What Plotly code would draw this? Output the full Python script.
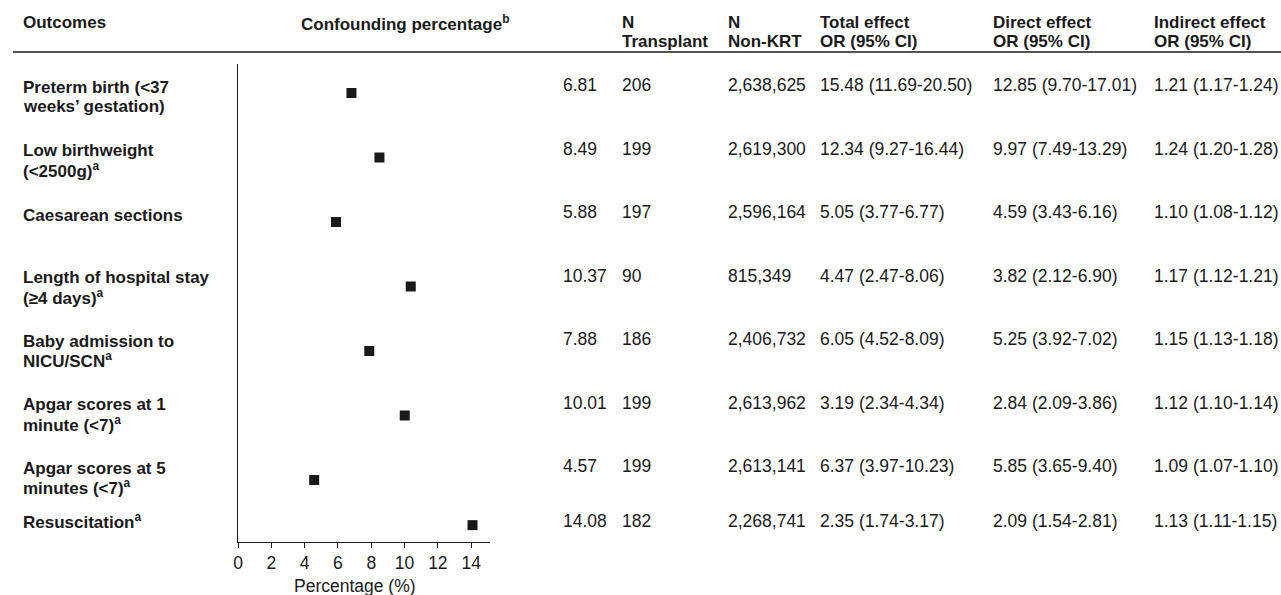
import plotly.graph_objects as go

W, H = 1281, 595

outcomes = [
    ["Preterm birth (&lt;37", "weeks’ gestation)"],
    ["Low birthweight", "(&lt;2500g)<sup>a</sup>"],
    ["Caesarean sections"],
    ["Length of hospital stay", "(≥4 days)<sup>a</sup>"],
    ["Baby admission to", "NICU/SCN<sup>a</sup>"],
    ["Apgar scores at 1", "minute (&lt;7)<sup>a</sup>"],
    ["Apgar scores at 5", "minutes (&lt;7)<sup>a</sup>"],
    ["Resuscitation<sup>a</sup>"],
]
confounding_pct = [6.81, 8.49, 5.88, 10.37, 7.88, 10.01, 4.57, 14.08]
n_transplant = [206, 199, 197, 90, 186, 199, 199, 182]
n_non_krt = ["2,638,625", "2,619,300", "2,596,164", "815,349",
             "2,406,732", "2,613,962", "2,613,141", "2,268,741"]
total_effect = ["15.48 (11.69-20.50)", "12.34 (9.27-16.44)", "5.05 (3.77-6.77)",
                "4.47 (2.47-8.06)", "6.05 (4.52-8.09)", "3.19 (2.34-4.34)",
                "6.37 (3.97-10.23)", "2.35 (1.74-3.17)"]
direct_effect = ["12.85 (9.70-17.01)", "9.97 (7.49-13.29)", "4.59 (3.43-6.16)",
                 "3.82 (2.12-6.90)", "5.25 (3.92-7.02)", "2.84 (2.09-3.86)",
                 "5.85 (3.65-9.40)", "2.09 (1.54-2.81)"]
indirect_effect = ["1.21 (1.17-1.24)", "1.24 (1.20-1.28)", "1.10 (1.08-1.12)",
                   "1.17 (1.12-1.21)", "1.15 (1.13-1.18)", "1.12 (1.10-1.14)",
                   "1.09 (1.07-1.10)", "1.13 (1.11-1.15)"]
headers = [["Outcomes"], ["Confounding percentage<sup>b</sup>"], ["N", "Transplant"],
           ["N", "Non-KRT"], ["Total effect", "OR (95% CI)"],
           ["Direct effect", "OR (95% CI)"], ["Indirect effect", "OR (95% CI)"]]
x_ticks = [0, 2, 4, 6, 8, 10, 12, 14]
x_title = "Percentage (%)"

# ---- layout (pixels) ----
row_pos = [0, 1, 2, 3, 4, 5, 6, 6.70]
ROW0_PX, ROW_STEP = 93, 64.5
TEXT0_PX, TEXT_STEP, TEXT_LAST = 85, 63.5, 521
AX_L, AX_R, AX_T, AX_B = 234, 487, 64, 542
PX_PER_UNIT = (468 - AX_L) / 14
Y_TOP, Y_BOT = (AX_T - ROW0_PX) / ROW_STEP, (AX_B - ROW0_PX) / ROW_STEP
col_x = [18, 560, 619, 726, 818, 992, 1154]
head_x = [18, 297, 619, 726, 818, 992, 1154]
FONT = "Liberation Sans, Arial, sans-serif"
FS_B, FS_R = 17, 17.5
INK = "#1a1a1a"
LINE_GAP = 19


def px(x):
    return x / W


def py(y):
    return 1 - y / H


fig = go.Figure()
fig.add_trace(go.Scatter(
    x=confounding_pct, y=row_pos, mode="markers",
    marker=dict(symbol="square", size=10, color=INK, line=dict(width=0)),
    hoverinfo="x", showlegend=False,
))

ann = []


def text(x, y, s, bold=False, xanchor="left"):
    ann.append(dict(x=px(x), y=py(y), xref="paper", yref="paper", text=s,
                    showarrow=False, xanchor=xanchor, yanchor="middle", align="left",
                    borderpad=0, borderwidth=0,
                    font=dict(family=FONT, size=FS_B if bold else FS_R, color=INK,
                              weight="bold" if bold else "normal")))


# headers
for hx, lines in zip(head_x, headers):
    for k, ln in enumerate(lines):
        text(hx, 23 + k * LINE_GAP, ln, bold=True)

# rows
n = len(row_pos)
for i in range(n):
    ty = TEXT_LAST if i == n - 1 else TEXT0_PX + TEXT_STEP * i
    lines = outcomes[i]
    if len(lines) == 1:
        text(col_x[0], ty + (0 if i == n - 1 else 3), lines[0], bold=True)
    else:
        for k, ln in enumerate(lines):
            text(col_x[0], ty + 2 + k * LINE_GAP, ln, bold=True)
    text(col_x[1], ty, f"{confounding_pct[i]:.2f}")
    text(col_x[2], ty, str(n_transplant[i]))
    text(col_x[3], ty, n_non_krt[i])
    text(col_x[4], ty, total_effect[i])
    text(col_x[5], ty, direct_effect[i])
    text(col_x[6], ty, indirect_effect[i])

# x-axis title
text((AX_L + 468) / 2, 586, x_title, xanchor="center")

fig.update_layout(
    width=W, height=H,
    margin=dict(l=0, r=0, t=0, b=0),
    paper_bgcolor="white", plot_bgcolor="white",
    annotations=ann,
    shapes=[dict(type="line", xref="paper", yref="paper",
                 x0=px(8), x1=1, y0=py(52), y1=py(52),
                 line=dict(color=INK, width=1.5))],
    xaxis=dict(domain=[px(AX_L), px(AX_R)],
               range=[0, (AX_R - AX_L) / PX_PER_UNIT],
               tickvals=x_ticks, ticks="outside", ticklen=5, tickcolor=INK, tickwidth=1,
               showline=True, linecolor=INK, linewidth=1,
               showgrid=False, zeroline=False,
               tickfont=dict(family=FONT, size=FS_R, color=INK)),
    yaxis=dict(domain=[py(AX_B), py(AX_T)], range=[Y_BOT, Y_TOP],
               showline=True, linecolor=INK, linewidth=1,
               showticklabels=False, ticks="", showgrid=False, zeroline=False),
)

fig.write_html("out.html", config={"displayModeBar": False},
               post_script="document.body.style.margin='0px';")
